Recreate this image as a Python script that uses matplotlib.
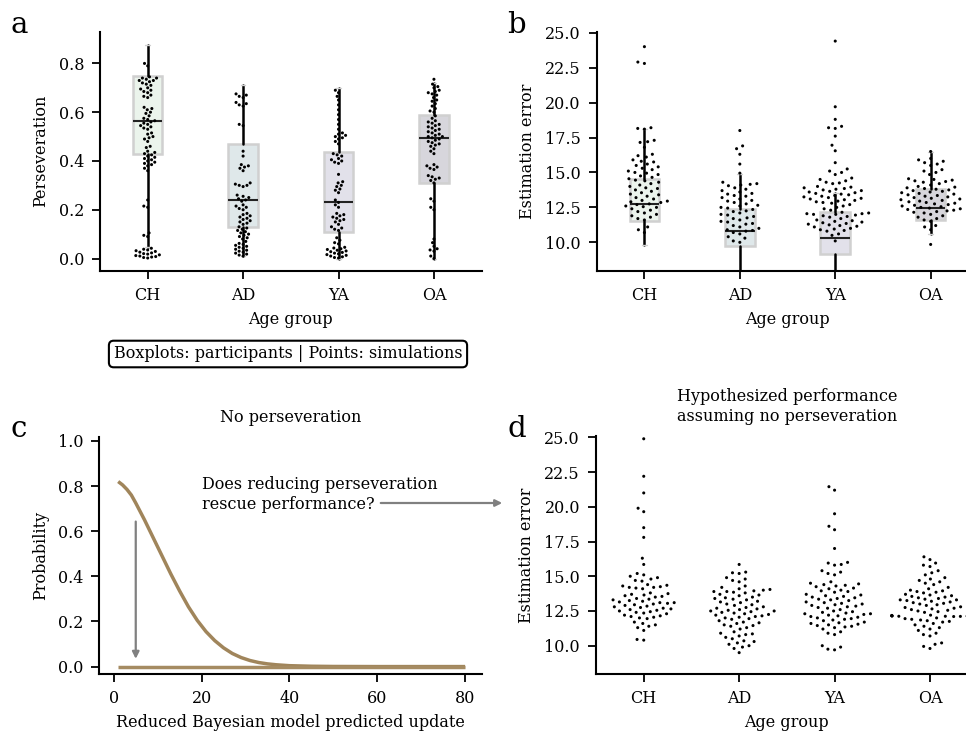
import numpy as np
import pandas as pd
import matplotlib
matplotlib.use('Agg')
import matplotlib.pyplot as plt
import seaborn as sns

sns.set_style('ticks')
plt.rcParams['font.family'] = ['DejaVu Serif']
plt.rcParams['font.size'] = 11.5
plt.rcParams['axes.linewidth'] = 1.5
plt.rcParams['xtick.major.size'] = 6
plt.rcParams['ytick.major.size'] = 6
plt.rcParams['xtick.major.width'] = 1.3
plt.rcParams['ytick.major.width'] = 1.3
plt.rcParams['xtick.major.pad'] = 5.5
plt.rcParams['ytick.major.pad'] = 5.5
plt.rcParams['axes.edgecolor'] = 'black'
plt.rcParams['xtick.color'] = 'black'
plt.rcParams['ytick.color'] = 'black'
plt.rcParams['text.color'] = 'black'
plt.rcParams['axes.labelcolor'] = 'black'

groups = ['CH', 'AD', 'YA', 'OA']
box_colors = ['#ebf4ec', '#dfe8ea', '#e2e1ea', '#d7d6dc']

# a: perseveration, simulations
pers_ch = [0.80, 0.79,
           0.745, 0.74, 0.74, 0.735, 0.73, 0.73, 0.725, 0.72,
           0.715, 0.71, 0.70, 0.695, 0.69, 0.685, 0.68, 0.67, 0.665, 0.66,
           0.62, 0.615, 0.61, 0.60, 0.595, 0.585,
           0.575, 0.57, 0.565, 0.56, 0.555, 0.55, 0.545, 0.54, 0.535, 0.53,
           0.515, 0.51, 0.50, 0.495, 0.49, 0.48, 0.46, 0.455,
           0.44, 0.435, 0.43, 0.425, 0.42, 0.415, 0.41, 0.405, 0.40, 0.395, 0.39, 0.385, 0.38, 0.37, 0.36,
           0.24, 0.215, 0.21, 0.105, 0.095, 0.09,
           0.042, 0.038, 0.035, 0.032, 0.029, 0.026, 0.023, 0.02, 0.018, 0.015, 0.012, 0.01, 0.008, 0.006, 0.004, 0.002]
pers_ad = [0.675, 0.67, 0.665, 0.66, 0.64, 0.635, 0.63, 0.625,
           0.55, 0.545, 0.44, 0.42,
           0.385, 0.38, 0.375, 0.37, 0.36,
           0.31, 0.305, 0.30, 0.30, 0.295,
           0.26, 0.255, 0.25, 0.245, 0.24, 0.235,
           0.22, 0.215, 0.21, 0.205, 0.20,
           0.185, 0.18, 0.175, 0.17, 0.165, 0.16, 0.155, 0.15, 0.145, 0.14,
           0.13, 0.125, 0.12, 0.115, 0.11, 0.105, 0.10, 0.095,
           0.09, 0.085, 0.08, 0.07,
           0.062, 0.058, 0.054, 0.05, 0.046, 0.042, 0.038, 0.034, 0.03, 0.026, 0.022, 0.018, 0.014, 0.01]
pers_ya = [0.69, 0.68, 0.665, 0.65, 0.63, 0.61, 0.59, 0.57, 0.55, 0.53,
           0.515, 0.51, 0.505, 0.50, 0.495, 0.49, 0.48, 0.47,
           0.43, 0.425, 0.42, 0.41, 0.405, 0.40, 0.395, 0.39,
           0.345,
           0.315, 0.31, 0.30, 0.295, 0.285, 0.28, 0.27,
           0.24, 0.23, 0.22, 0.21,
           0.185, 0.18, 0.175, 0.17, 0.165, 0.16, 0.155, 0.15, 0.14,
           0.13, 0.125, 0.12, 0.115,
           0.085, 0.075, 0.065, 0.06,
           0.046, 0.043, 0.04, 0.037, 0.034, 0.031, 0.028, 0.025, 0.022, 0.019, 0.016, 0.013, 0.01, 0.007, 0.004, 0.002]
pers_oa = [0.735,
           0.715, 0.705, 0.70, 0.69, 0.685, 0.68, 0.675, 0.67, 0.66, 0.65, 0.645, 0.635, 0.625, 0.615, 0.605, 0.60,
           0.585, 0.575, 0.565, 0.56, 0.555, 0.55, 0.545, 0.54, 0.535, 0.53, 0.525, 0.52, 0.515, 0.51, 0.505,
           0.50, 0.50, 0.495, 0.49, 0.485, 0.48, 0.475, 0.47, 0.465, 0.46, 0.45, 0.44, 0.43,
           0.385, 0.38, 0.375, 0.37, 0.365,
           0.34, 0.335, 0.33, 0.325, 0.32, 0.31,
           0.245, 0.235, 0.21, 0.20,
           0.08, 0.065, 0.05, 0.04, 0.035, 0.03, 0.01, 0.0]

# a: participant boxplots
pers_q1 = [0.43, 0.13, 0.11, 0.31]
pers_med = [0.565, 0.24, 0.23, 0.495]
pers_q3 = [0.75, 0.47, 0.435, 0.59]
pers_lo = [0.048, 0.01, 0.0, 0.0]
pers_hi = [0.875, 0.71, 0.70, 0.72]

# b: estimation error, simulations
err_ch = [24.0, 22.9, 22.8, 18.2, 18.15, 18.1, 17.3, 17.2, 17.15, 16.8, 16.3, 16.2, 16.1,
          15.9, 15.8, 15.75, 15.6, 15.5,
          15.4, 15.3, 15.2, 15.1, 15.0, 14.95,
          14.85, 14.75, 14.65, 14.55, 14.45, 14.4,
          14.3, 14.2, 14.1, 14.0, 13.9, 13.85,
          13.75, 13.65, 13.55, 13.45, 13.4, 13.3,
          13.2, 13.1, 13.0, 12.95, 12.9, 12.85,
          12.75, 12.7, 12.6, 12.55, 12.5, 12.4,
          12.3, 12.2, 12.1, 12.0, 11.9,
          11.8, 11.7, 11.6,
          11.1, 10.9, 10.7]
err_ad = [18.0, 16.9, 16.7, 16.3, 15.6, 14.95,
          14.3, 14.2, 14.15, 14.1, 14.05,
          13.9, 13.8, 13.7, 13.6, 13.5, 13.45,
          13.35, 13.3, 13.2, 13.1, 13.0, 12.95,
          12.85, 12.75, 12.65, 12.6, 12.5, 12.45,
          12.35, 12.25, 12.2, 12.1, 12.0, 11.95,
          11.85, 11.75, 11.7, 11.6, 11.5, 11.45,
          11.35, 11.3, 11.2, 11.1, 11.0,
          10.9, 10.85, 10.8, 10.7, 10.6,
          10.4, 10.3, 10.1, 10.0]
err_ya = [24.4, 19.7, 18.8, 18.3, 18.2, 18.15, 17.6, 16.95, 16.55, 15.7,
          15.25, 15.1, 15.0, 14.85,
          14.6, 14.5, 14.4, 14.3, 14.25, 14.2,
          14.0, 13.95, 13.9, 13.85, 13.8, 13.75, 13.7, 13.65, 13.6, 13.55, 13.5,
          13.45, 13.4, 13.35, 13.3, 13.25, 13.2, 13.15, 13.1, 13.05, 13.0, 12.95, 12.9, 12.85, 12.8,
          12.7, 12.6, 12.5, 12.4, 12.3,
          12.15, 12.1, 12.05, 12.05, 12.0, 12.0, 11.95, 11.9, 11.85, 11.8,
          11.7, 11.6, 11.55, 11.5, 11.45, 11.4, 11.35, 11.3, 11.25, 11.2, 11.15, 11.1, 11.0, 10.95, 10.9, 10.85, 10.8,
          10.6, 10.5, 10.1]
err_oa = [16.5, 16.0, 15.9, 15.8, 15.7, 15.6, 15.5,
          15.2, 15.1, 15.0, 14.85,
          14.55, 14.5, 14.45, 14.4, 14.35, 14.3, 14.2, 14.1,
          14.0, 13.95, 13.9, 13.85, 13.8, 13.75, 13.7, 13.65, 13.6, 13.55, 13.5, 13.45, 13.4, 13.35, 13.3,
          13.25, 13.2, 13.15, 13.1, 13.05, 13.0, 12.95, 12.9, 12.85, 12.8, 12.75, 12.7,
          12.65, 12.6, 12.55, 12.5, 12.45, 12.4, 12.35, 12.3, 12.25, 12.2, 12.15, 12.1,
          12.0, 11.9, 11.8, 11.7, 11.6, 11.5,
          11.2, 11.1, 10.9, 9.85]

# b: participant boxplots
err_q1 = [11.55, 9.75, 9.15, 11.6]
err_med = [12.75, 10.8, 10.3, 12.45]
err_q3 = [14.5, 12.35, 12.15, 13.8]
err_lo = [9.8, 7.0, 7.0, 10.6]
err_hi = [18.1, 14.9, 13.5, 16.45]

# c: predicted update distribution
upd_x = [1, 2, 3, 4, 5, 7, 9, 11, 13, 15, 17, 19, 21, 23, 25, 27, 29, 31, 33, 35, 37, 40, 45, 50, 60, 70, 80]
prob_pers = [0.82, 0.805, 0.785, 0.76, 0.725, 0.65, 0.57, 0.49, 0.41, 0.335, 0.265, 0.205, 0.155, 0.115, 0.083,
             0.058, 0.04, 0.027, 0.018, 0.012, 0.008, 0.004, 0.0015, 0.0005, 0.0, 0.0, 0.0]
nopers_x = [1, 80]
nopers_y = [0.0, 0.0]

# d: hypothesized error without perseveration
nop_ch = [24.9, 22.2, 21.0, 19.9, 19.65, 18.5, 17.8, 16.3, 15.85,
          15.2, 15.1, 15.0, 14.9, 14.8, 14.7, 14.65,
          14.4, 14.35, 14.3, 14.25, 14.2, 14.2, 14.15, 14.1,
          13.8, 13.75, 13.7, 13.65, 13.6, 13.55, 13.5,
          13.4, 13.35, 13.3, 13.25, 13.2, 13.15, 13.1, 13.1, 13.05, 13.0, 12.95, 12.9,
          12.85, 12.8, 12.75, 12.7, 12.65, 12.6, 12.55, 12.5, 12.45, 12.4, 12.35, 12.3,
          12.2, 12.15, 12.1, 12.05, 12.0, 11.95,
          11.7, 11.6, 11.5, 11.4, 11.3,
          11.1, 10.45, 10.4]
nop_ad = [15.85, 15.3, 15.25, 15.2, 14.9, 14.8, 14.7, 14.6,
          14.3, 14.2, 14.1, 14.05, 14.0, 13.95, 13.9, 13.9,
          13.85, 13.8, 13.7, 13.65, 13.6, 13.5, 13.45, 13.4, 13.35, 13.3,
          13.2, 13.15, 13.1, 13.0, 12.95, 12.9, 12.8, 12.75, 12.7, 12.65, 12.6, 12.55, 12.5, 12.5,
          12.45, 12.4, 12.35, 12.3, 12.25, 12.2, 12.15, 12.1, 12.05, 12.0, 11.95, 11.9,
          11.8, 11.7, 11.65, 11.6, 11.5, 11.45, 11.4, 11.3, 11.2,
          11.0, 10.9, 10.85, 10.8, 10.7, 10.6, 10.5,
          10.35, 10.3, 10.2, 10.1, 10.0, 9.9, 9.8, 9.5]
nop_ya = [21.45, 21.2, 19.5, 18.6, 18.35, 17.0, 16.0, 15.95, 15.85, 15.8,
          15.4, 15.3, 15.2, 15.1,
          14.6, 14.5, 14.45, 14.4, 14.35, 14.3, 14.25,
          14.15, 14.1, 14.0, 13.95, 13.9, 13.85,
          13.7, 13.65, 13.6, 13.55, 13.5, 13.45, 13.4, 13.35, 13.3, 13.25,
          13.15, 13.1, 13.05, 13.0, 12.95, 12.9, 12.85,
          12.8, 12.75, 12.7, 12.6, 12.5, 12.45, 12.4, 12.35, 12.3, 12.3, 12.25, 12.2,
          12.15, 12.1, 12.05, 12.0, 11.95, 11.9, 11.85, 11.8,
          11.7, 11.65, 11.6, 11.55, 11.5, 11.45, 11.4, 11.35, 11.3,
          11.2, 11.0, 10.9, 10.8,
          10.0, 9.9, 9.75, 9.7]
nop_oa = [16.4, 16.2, 15.95, 15.8, 15.7, 15.4, 15.25, 15.1,
          14.9, 14.8, 14.7, 14.6, 14.5, 14.4,
          14.2, 14.1, 14.0, 13.95, 13.9, 13.85, 13.8,
          13.7, 13.65, 13.6, 13.55, 13.5, 13.45, 13.4, 13.35, 13.3, 13.3, 13.25,
          13.2, 13.15, 13.1, 13.05, 13.0, 12.95, 12.9,
          12.8, 12.75, 12.7, 12.65, 12.6, 12.55, 12.5, 12.45, 12.4,
          12.2, 12.18, 12.17, 12.16, 12.15, 12.15, 12.14, 12.14, 12.13, 12.12, 12.12, 12.11, 12.1,
          12.0, 11.95, 11.9, 11.85, 11.8, 11.75, 11.7, 11.6,
          11.5, 11.4, 11.3, 11.2, 11.1,
          10.9, 10.8, 10.7,
          10.2, 10.1, 9.95, 9.8]


def draw_boxes(ax, q1, med, q3, lo, hi):
    stats = [dict(q1=a, med=m, q3=b, whislo=l, whishi=h, fliers=[])
             for a, m, b, l, h in zip(q1, med, q3, lo, hi)]
    bp = ax.bxp(stats, positions=range(len(groups)), widths=0.31, patch_artist=True,
                showfliers=False, manage_ticks=False, capwidths=0.05,
                boxprops=dict(edgecolor='#d0d0d0', linewidth=1.8),
                medianprops=dict(color='#222222', linewidth=1.5),
                whiskerprops=dict(color='black', linewidth=1.8),
                capprops=dict(color='#d0d0d0', linewidth=1))
    for patch, c in zip(bp['boxes'], box_colors):
        patch.set_facecolor(c)


def draw_swarm(ax, values, gap):
    df = pd.DataFrame({'group': np.repeat(groups, [len(v) for v in values]),
                       'value': np.concatenate(values)})
    # invisible edge widens the spacing between dots
    sns.swarmplot(data=df, x='group', y='value', order=groups, color='black',
                  size=2.2, linewidth=gap, edgecolor='none', ax=ax, zorder=3)


def finish_cat(ax, ylabel, ylim, yticks, fmt):
    ax.set_xlim(-0.5, 3.5)
    ax.set_ylim(*ylim)
    ax.set_xticks(range(4))
    ax.set_xticklabels(groups)
    ax.set_yticks(yticks)
    ax.set_yticklabels([fmt % t for t in yticks])
    ax.set_xlabel('Age group', labelpad=5)
    ax.set_ylabel(ylabel, labelpad=6.5)
    sns.despine(ax=ax)


fig = plt.figure(figsize=(9.66, 7.36), dpi=100)
ax_a = fig.add_axes([0.1035, 0.6322, 0.3951, 0.3247])
ax_b = fig.add_axes([0.6177, 0.6322, 0.3951, 0.3247])
ax_c = fig.add_axes([0.1028, 0.0842, 0.3959, 0.3216])
ax_d = fig.add_axes([0.6170, 0.0842, 0.3951, 0.3234])

# a
draw_boxes(ax_a, pers_q1, pers_med, pers_q3, pers_lo, pers_hi)
draw_swarm(ax_a, [pers_ch, pers_ad, pers_ya, pers_oa], 0.6)
finish_cat(ax_a, 'Perseveration', (-0.05, 0.93), [0, 0.2, 0.4, 0.6, 0.8], '%.1f')

# b
draw_boxes(ax_b, err_q1, err_med, err_q3, err_lo, err_hi)
draw_swarm(ax_b, [err_ch, err_ad, err_ya, err_oa], 2.4)
finish_cat(ax_b, 'Estimation error', (7.97, 25.07), [10, 12.5, 15, 17.5, 20, 22.5, 25], '%.1f')

# c
ax_c.plot(upd_x, prob_pers, color='#a0855b', lw=2.5, solid_capstyle='butt')
ax_c.plot(nopers_x, nopers_y, color='#a58b62', lw=2.5, solid_capstyle='butt')
ax_c.set_xlim(-3.3, 83.8)
ax_c.set_ylim(-0.033, 1.016)
ax_c.set_xticks([0, 20, 40, 60, 80])
ax_c.set_yticks([0, 0.2, 0.4, 0.6, 0.8, 1.0])
ax_c.set_yticklabels(['%.1f' % t for t in [0, 0.2, 0.4, 0.6, 0.8, 1.0]])
ax_c.set_xlabel('Reduced Bayesian model predicted update', labelpad=5)
ax_c.set_ylabel('Probability', labelpad=6.5)
ax_c.set_title('No perseveration', pad=11, fontsize=11.5)
sns.despine(ax=ax_c)
ax_c.annotate('', xy=(5, 0.022), xytext=(5, 0.655),
              arrowprops=dict(arrowstyle='-|>', color='gray', lw=1.6, mutation_scale=10))
ax_c.text(20, 0.699, 'Does reducing perseveration\nrescue performance?', ha='left', va='baseline')
ax_c.annotate('', xy=(505 / 966, 1 - 503 / 736), xytext=(378 / 966, 1 - 503 / 736),
              xycoords='figure fraction', textcoords='figure fraction',
              arrowprops=dict(arrowstyle='-|>', color='gray', lw=1.6, mutation_scale=10),
              annotation_clip=False)

# d
draw_swarm(ax_d, [nop_ch, nop_ad, nop_ya, nop_oa], 2.4)
finish_cat(ax_d, 'Estimation error', (7.96, 25.1), [10, 12.5, 15, 17.5, 20, 22.5, 25], '%.1f')
ax_d.set_title('Hypothesized performance\nassuming no perseveration', pad=11, fontsize=11.5)

fig.text(288 / 966, 1 - 354 / 736, 'Boxplots: participants | Points: simulations',
         ha='center', va='center',
         bbox=dict(boxstyle='round,pad=0.3', fc='white', ec='black', lw=1.5))

for lab, x, y in [('a', 10, 33), ('b', 507, 33), ('c', 11, 437), ('d', 507, 437)]:
    fig.text(x / 966, 1 - y / 736, lab, fontsize=21, ha='left', va='baseline')

fig.savefig('out.png', dpi=100)
